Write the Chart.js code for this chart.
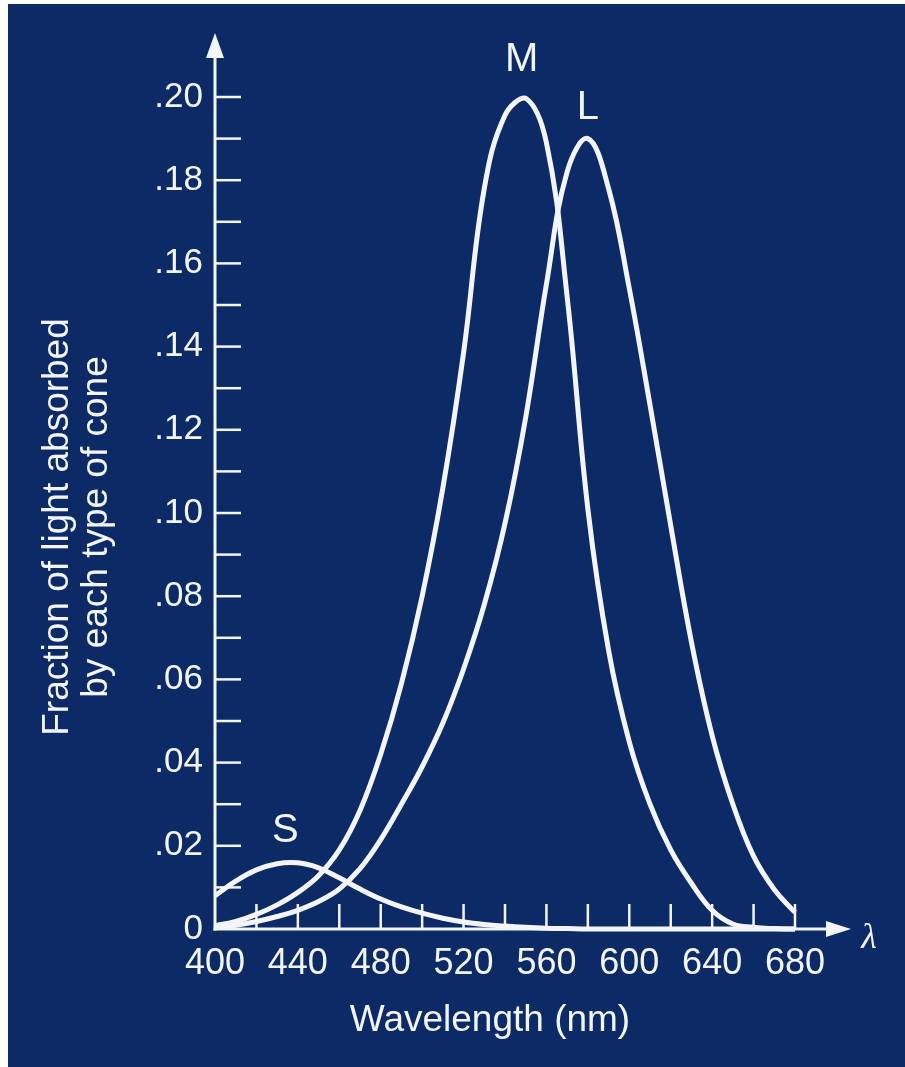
<!DOCTYPE html>
<html><head><meta charset="utf-8">
<script src="https://cdn.jsdelivr.net/npm/chart.js@4.4.1/dist/chart.umd.min.js"></script>
<style>
html,body{margin:0;padding:0;background:#ffffff;overflow:hidden;}
#wrap{position:absolute;left:8px;top:4px;width:897px;height:1063px;background:#0b2a66;}
canvas{display:block;}
</style></head><body>
<div id="wrap"><canvas id="c" width="897" height="1063"></canvas></div>
<script>
// ---- data ----
const wavelengths = [400,410,420,430,440,450,460,470,480,490,500,510,520,530,540,550,560,570,580,590,600,610,620,630,640,650,660,670,680];
const sCone = [0.0080,0.0115,0.0142,0.0157,0.0159,0.0147,0.0123,0.0096,0.0072,0.0053,0.0038,0.0026,0.0017,0.0011,0.0007,0.0004,0.0002,0.0001,0,0,0,0,0,0,0,0,0,0,0];
const mCone = [0.0008,0.0018,0.0035,0.0058,0.0088,0.0128,0.0190,0.0285,0.0420,0.0590,0.0800,0.1060,0.1385,0.1780,0.1956,0.1997,0.1890,0.1520,0.1010,0.0670,0.0450,0.0300,0.0190,0.0110,0.0045,0.0012,0.0004,0.0001,0];
const lCone = [0.0003,0.0009,0.0018,0.0030,0.0045,0.0066,0.0096,0.0145,0.0215,0.0300,0.0390,0.0495,0.0625,0.0780,0.0975,0.1230,0.1550,0.1820,0.1900,0.1780,0.1540,0.1260,0.0970,0.0690,0.0465,0.0300,0.0175,0.0095,0.0040];

const xTickValues = [400,440,480,520,560,600,640,680];
const xTickLabels = ['400','440','480','520','560','600','640','680'];
const yTickValues = [0,0.02,0.04,0.06,0.08,0.10,0.12,0.14,0.16,0.18,0.20];
const yTickLabels = ['0','.02','.04','.06','.08','.10','.12','.14','.16','.18','.20'];
const xMinorTicks = [420,440,460,480,500,520,540,560,580,600,620,640,660,680];
const yMinorTicks = [0.01,0.02,0.03,0.04,0.05,0.06,0.07,0.08,0.09,0.10,0.11,0.12,0.13,0.14,0.15,0.16,0.17,0.18,0.19,0.20];

const curveNames = ['S','M','L'];
const curveLabelWavelength = [434, 548, 580];
const curveLabelValue = [0.0235, 0.209, 0.1973];

const yTitleLines = ['Fraction of light absorbed','by each type of cone'];
const xTitle = 'Wavelength (nm)';
const xAxisSymbol = '\u03BB';

// ---- styling ----
const WHITE = '#f4f5fa';
const FONT = '"Liberation Sans", Arial, Helvetica, sans-serif';

function pts(vals){ return wavelengths.map((w,i)=>({x:w, y:vals[i]})); }

function ds(label, vals){
  return {label, data: pts(vals), borderColor: WHITE, borderWidth: 5,
    pointRadius: 0, fill: false, tension: 0.4, clip: false};
}

const axesPlugin = {
  id: 'axes',
  beforeDatasetsDraw(chart){
    const {ctx, scales:{x, y}} = chart;
    const x0 = x.getPixelForValue(400), y0 = y.getPixelForValue(0);
    const yTop = y.getPixelForValue(0.2), xEnd = x.getPixelForValue(680);
    ctx.save();
    ctx.strokeStyle = WHITE; ctx.fillStyle = WHITE; ctx.lineWidth = 3;
    // y axis line + arrow
    ctx.beginPath(); ctx.moveTo(x0, y0 + 1.5); ctx.lineTo(x0, yTop - 42); ctx.stroke();
    ctx.beginPath(); ctx.moveTo(x0, yTop - 64); ctx.lineTo(x0 - 9, yTop - 39); ctx.lineTo(x0 + 9, yTop - 39); ctx.closePath(); ctx.fill();
    // x axis line + arrow
    ctx.beginPath(); ctx.moveTo(x0 - 1.5, y0); ctx.lineTo(xEnd + 34, y0); ctx.stroke();
    ctx.beginPath(); ctx.moveTo(xEnd + 56, y0); ctx.lineTo(xEnd + 31, y0 - 8); ctx.lineTo(xEnd + 31, y0 + 8); ctx.closePath(); ctx.fill();
    // tick marks (inward)
    ctx.lineWidth = 2.5;
    yMinorTicks.forEach(v => { const p = y.getPixelForValue(v); ctx.beginPath(); ctx.moveTo(x0, p); ctx.lineTo(x0 + 26, p); ctx.stroke(); });
    xMinorTicks.forEach(v => { const p = x.getPixelForValue(v); ctx.beginPath(); ctx.moveTo(p, y0); ctx.lineTo(p, y0 - 25); ctx.stroke(); });
    ctx.restore();
  },
  afterDraw(chart){
    const {ctx, chartArea:a, scales:{x, y}} = chart;
    ctx.save();
    ctx.fillStyle = WHITE;
    ctx.textAlign = 'center'; ctx.textBaseline = 'middle';
    // curve labels
    ctx.font = '40px ' + FONT;
    curveNames.forEach((n,i) => ctx.fillText(n, x.getPixelForValue(curveLabelWavelength[i]), y.getPixelForValue(curveLabelValue[i])));
    // x axis title
    ctx.font = '37px ' + FONT;
    ctx.fillText(xTitle, (a.left + a.right)/2 - 15, a.bottom + 92);
    // lambda
    ctx.font = 'italic 36px "Liberation Serif", "DejaVu Serif", serif';
    ctx.fillText(xAxisSymbol, a.right + 74, a.bottom + 10);
    // y axis title
    ctx.font = '37px ' + FONT;
    ctx.translate(0, (a.top + a.bottom)/2 + 14);
    ctx.rotate(-Math.PI/2);
    ctx.fillText(yTitleLines[0], 0, 50);
    ctx.fillText(yTitleLines[1], 0, 89);
    ctx.restore();
  }
};

new Chart(document.getElementById('c'), {
  type: 'line',
  data: { datasets: [ds('S', sCone), ds('M', mCone), ds('L', lCone)] },
  options: {
    responsive: false, animation: false, devicePixelRatio: 1,
    layout: { padding: { left: 0, top: 93, right: 110, bottom: 0 } },
    plugins: { legend: { display: false }, tooltip: { enabled: false } },
    scales: {
      x: {
        type: 'linear', min: 400, max: 680,
        afterBuildTicks(s){ s.ticks = xTickValues.map(v => ({value: v})); },
        afterFit(s){ s.height = 138; },
        grid: { display: false, drawTicks: false }, border: { display: false },
        ticks: { color: WHITE, font: { family: FONT, size: 36 }, padding: 13, maxRotation: 0,
          callback: (v) => { const i = xTickValues.indexOf(v); return i >= 0 ? xTickLabels[i] : ''; } }
      },
      y: {
        type: 'linear', min: 0, max: 0.2,
        afterBuildTicks(s){ s.ticks = yTickValues.map(v => ({value: v})); },
        afterFit(s){ s.width = 207; },
        grid: { display: false, drawTicks: false }, border: { display: false },
        ticks: { color: WHITE, font: { family: FONT, size: 35 }, padding: 12,
          callback: (v) => { const i = yTickValues.findIndex(t => Math.abs(t - v) < 1e-9); return i >= 0 ? yTickLabels[i] : ''; } }
      }
    }
  },
  plugins: [axesPlugin]
});
</script>
</body></html>
